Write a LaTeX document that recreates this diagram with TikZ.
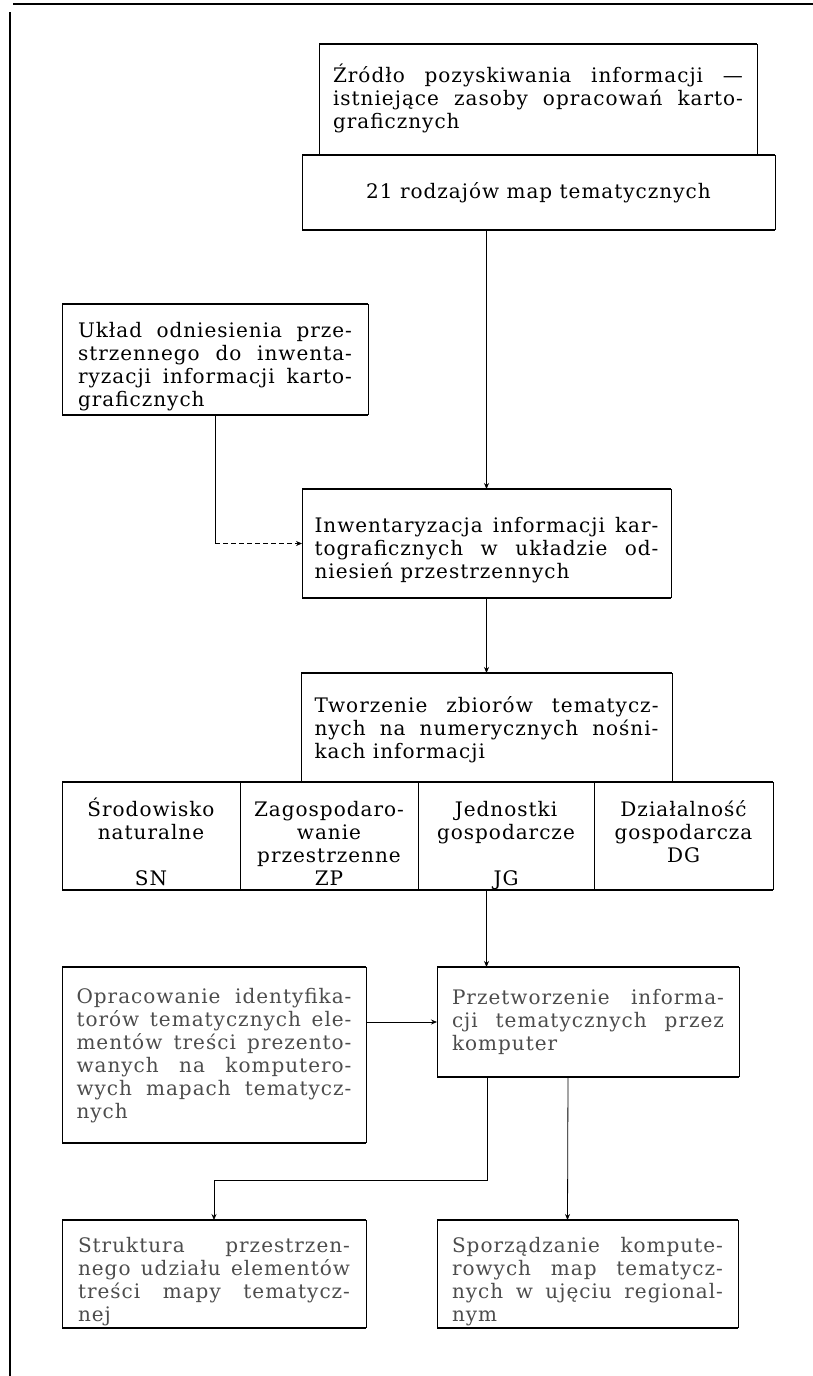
\documentclass[tikz,border=0pt]{standalone}
\usepackage{fontspec}
\setmainfont{DejaVu Serif}[LetterSpace=5]
\usepackage{tikz}
\usetikzlibrary{arrows.meta}
\hyphenpenalty=10000
\tolerance=10000

\begin{document}
\begin{tikzpicture}[
    x=1pt,
    y=-1pt,
    >={Stealth[length=6pt,width=5pt]},
    font=\fontsize{20}{23}\selectfont,
    every node/.style={inner sep=0pt, outer sep=0pt},
    box/.style={text width=#1, align=justify},
    cell/.style={text width=170pt, minimum height=108pt, align=center},
    firstline/.style={text height=0pt, text depth=#1},
    pale/.style={text=black!70},
    hrule/.style={line width=1.5pt},
    vrule/.style={line width=0.7pt},
    link/.style={line width=0.8pt}
]

\useasboundingbox (0,0) rectangle (813,1376);

% page rules
\draw[hrule] (13,4) -- (813,4);
\draw[hrule] (10,12) -- (10,1376);

% =================================================
% OBEN: ZRODLO
% =================================================

\node[
    box=410pt,
    firstline=35pt,
    minimum width=438pt,
    minimum height=111pt
] (zrodlo) at (538,99.5)
{Źródło pozyskiwania informacji —\linebreak
istniejące zasoby opracowań karto-\linebreak
graficznych};

\node[
    align=center,
    minimum width=473pt,
    minimum height=75pt
] (rodzaje) at (538.5,192.5)
{21 rodzajów map tematycznych};

\node[
    box=274pt,
    firstline=45pt,
    minimum width=306pt,
    minimum height=111pt
] (uklad) at (215,359.5)
{Układ odniesienia prze-\linebreak
strzennego do inwenta-\linebreak
ryzacji informacji karto-\linebreak
graficznych};

\node[
    box=344pt,
    firstline=23pt,
    minimum width=369pt,
    minimum height=109pt
] (inwent) at (486.5,543.5)
{Inwentaryzacja informacji kar-\linebreak
tograficznych w układzie od-\linebreak
niesień przestrzennych};

\node[
    box=344pt,
    firstline=31pt,
    minimum width=371pt,
    minimum height=109pt
] (tworz) at (486.5,727.5)
{Tworzenie zbiorów tematycz-\linebreak
nych na numerycznych nośni-\linebreak
kach informacji};

% =================================================
% ZBIORY: SN, ZP, JG, DG
% =================================================

\node[cell, firstline=40pt, minimum width=178pt] (sn) at (151,836)
{Środowisko\\ naturalne\\ \mbox{}\\ SN};

\node[cell, firstline=40pt, minimum width=178pt] (zp) at (329,836)
{Zagospodaro-\\ wanie\\ przestrzenne\\ ZP};

\node[cell, firstline=40pt, minimum width=176pt] (jg) at (506,836)
{Jednostki\\ gospodarcze\\ \mbox{}\\ JG};

\node[cell, firstline=40pt, minimum width=179pt] (dg) at (683.5,836)
{Działalność\\ gospodarcza\\ DG};

% =================================================
% UNTEN: PRZETWORZENIE
% =================================================

\node[
    box=275pt,
    pale,
    firstline=104pt,
    minimum width=304pt,
    minimum height=176pt
] (opraco) at (214,1055)
{Opracowanie identyfika-\linebreak
torów tematycznych ele-\linebreak
mentów treści prezento-\linebreak
wanych na komputero-\linebreak
wych mapach tematycz-\linebreak
nych};

\node[
    box=272pt,
    pale,
    firstline=36pt,
    minimum width=302pt,
    minimum height=110pt
] (przetw) at (588,1022)
{Przetworzenie informa-\linebreak
cji tematycznych przez\linebreak
komputer};

\node[
    box=272pt,
    pale,
    firstline=44pt,
    minimum width=304pt,
    minimum height=108pt
] (struk) at (214,1274)
{Struktura przestrzen-\linebreak
nego udziału elementów\linebreak
treści mapy tematycz-\linebreak
nej};

\node[
    box=271pt,
    pale,
    firstline=44pt,
    minimum width=301pt,
    minimum height=108pt
] (sporz) at (587.5,1274)
{Sporządzanie kompute-\linebreak
rowych map tematycz-\linebreak
nych w ujęciu regional-\linebreak
nym};

% frames: thick rules top and bottom, thin sides
\foreach \n in {zrodlo,rodzaje,uklad,inwent,tworz,sn,zp,jg,dg,opraco,przetw,struk,sporz}{
    \draw[hrule] (\n.north west) -- (\n.north east);
    \draw[hrule] (\n.south west) -- (\n.south east);
    \draw[vrule] (\n.north west) -- (\n.south west);
    \draw[vrule] (\n.north east) -- (\n.south east);
}

% =================================================
% VERBINDUNGEN
% =================================================

\draw[link, ->] (rodzaje.south -| inwent.north) -- (inwent.north);

\draw[link] (uklad.south) -- (uklad.south |- inwent.west);
\draw[
    link,
    dash pattern=on 5pt off 3pt,
    ->
] (uklad.south |- inwent.west) -- (inwent.west);

\draw[link, ->] (inwent.south) -- (tworz.north);

\draw[link, ->] (tworz.south |- jg.south) -- (tworz.south |- przetw.north);

\draw[link, ->] (opraco.east |- przetw.west) -- (przetw.west);

\coordinate (knick) at (487,1180);
\draw[link, ->] (knick |- przetw.south) -- (knick) -| (struk.north);

\draw[link, ->] ([xshift=-20pt]przetw.south) -- ([xshift=-20pt]sporz.north);

\end{tikzpicture}
\end{document}
